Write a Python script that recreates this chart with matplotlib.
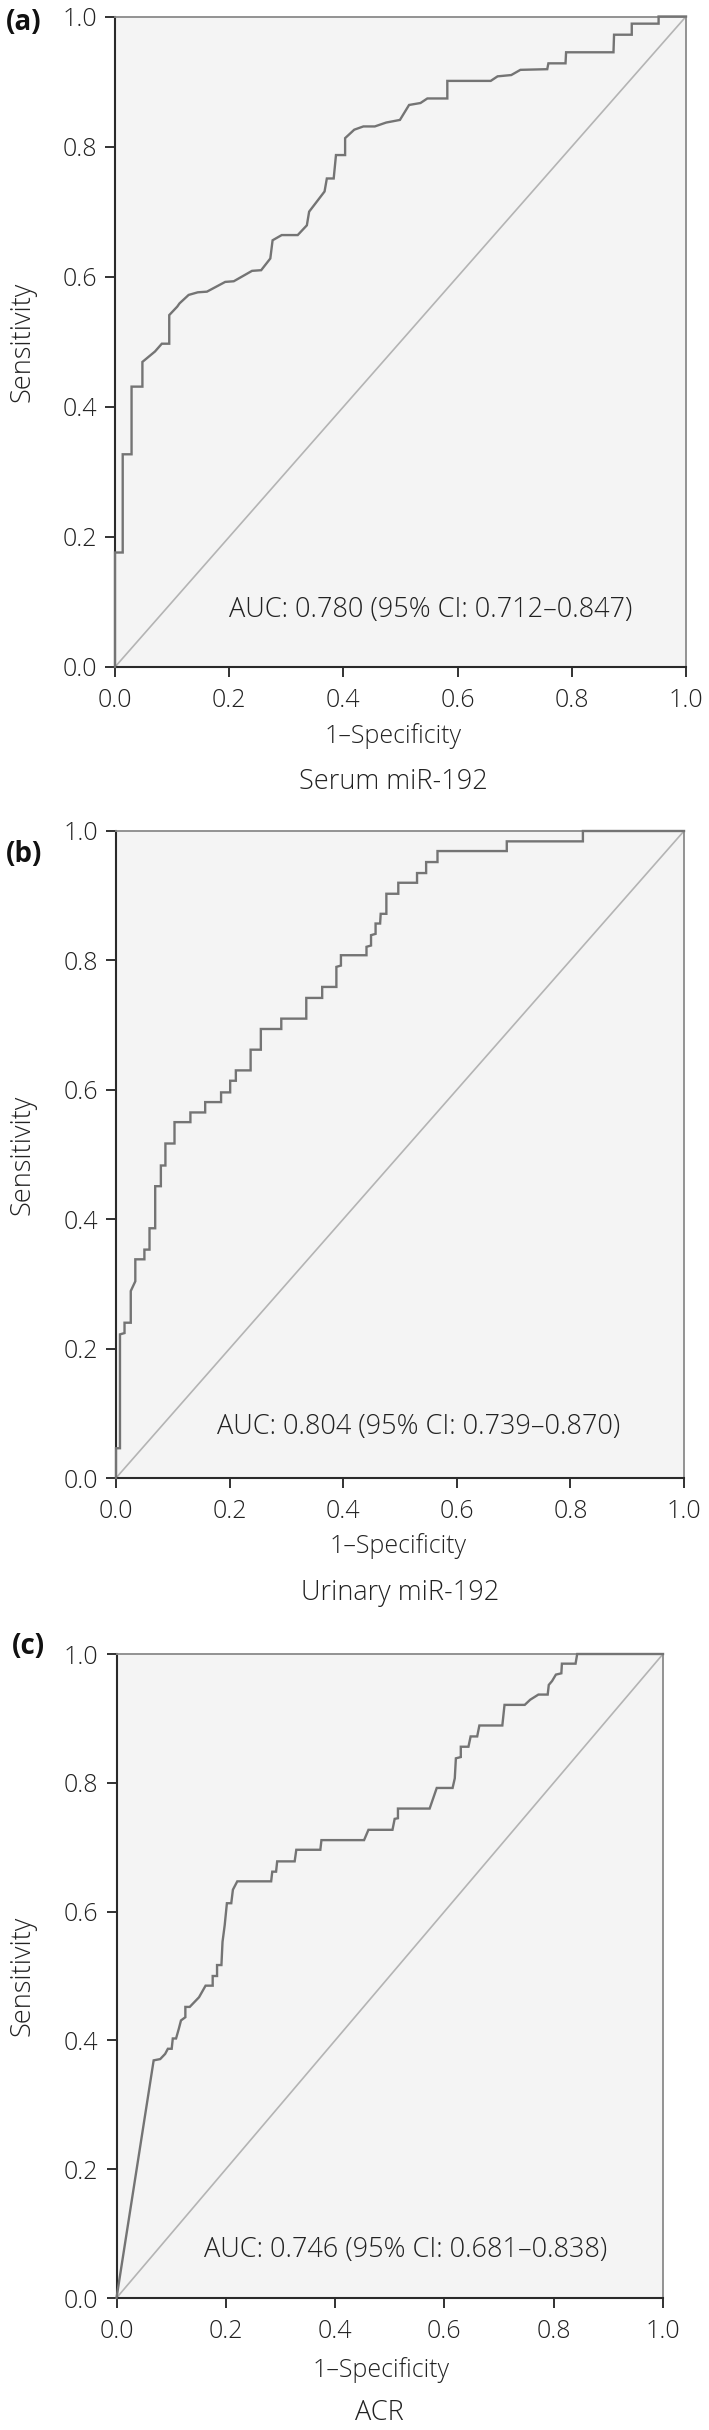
import matplotlib
matplotlib.use("Agg")
import matplotlib.pyplot as plt

# ---------------- data ----------------
panel_letters = ["(a)", "(b)", "(c)"]
panel_names = ["Serum miR-192", "Urinary miR-192", "ACR"]
auc_texts = ["AUC: 0.780 (95% CI: 0.712\u20130.847)",
             "AUC: 0.804 (95% CI: 0.739\u20130.870)",
             "AUC: 0.746 (95% CI: 0.681\u20130.838)"]
tick_vals = [0.0, 0.2, 0.4, 0.6, 0.8, 1.0]
tick_labels = ["0.0", "0.2", "0.4", "0.6", "0.8", "1.0"]

a_fpr = [0, 0, 0.0135, 0.0135, 0.029, 0.029, 0.048, 0.048, 0.07, 0.082,
         0.095, 0.095, 0.109, 0.113, 0.129, 0.145, 0.161, 0.193, 0.208, 0.240,
         0.256, 0.272, 0.276, 0.292, 0.320, 0.336, 0.340, 0.367, 0.371, 0.383,
         0.387, 0.403, 0.403, 0.419, 0.435, 0.455, 0.475, 0.499, 0.515, 0.535,
         0.547, 0.582, 0.582, 0.658, 0.670, 0.694, 0.710, 0.757, 0.759, 0.789,
         0.790, 0.873, 0.874, 0.905, 0.905, 0.952, 0.952, 1.0]
a_tpr = [0, 0.176, 0.176, 0.327, 0.327, 0.431, 0.431, 0.469, 0.485, 0.497,
         0.497, 0.541, 0.554, 0.559, 0.572, 0.576, 0.577, 0.592, 0.593, 0.609,
         0.610, 0.628, 0.656, 0.664, 0.664, 0.679, 0.700, 0.731, 0.751, 0.751,
         0.787, 0.787, 0.813, 0.826, 0.831, 0.831, 0.837, 0.841, 0.864, 0.867,
         0.874, 0.874, 0.901, 0.901, 0.908, 0.910, 0.918, 0.919, 0.928, 0.928,
         0.945, 0.945, 0.972, 0.972, 0.989, 0.989, 1.0, 1.0]

b_fpr = [0, 0, 0.007, 0.007, 0.015, 0.015, 0.026, 0.026, 0.034, 0.034,
         0.050, 0.050, 0.059, 0.059, 0.069, 0.069, 0.079, 0.079, 0.087, 0.087,
         0.103, 0.103, 0.131, 0.131, 0.157, 0.157, 0.185, 0.185, 0.201, 0.201,
         0.211, 0.211, 0.237, 0.237, 0.255, 0.255, 0.291, 0.291, 0.335, 0.335,
         0.363, 0.363, 0.388, 0.388, 0.396, 0.396, 0.441, 0.441, 0.449, 0.449,
         0.457, 0.457, 0.465, 0.466, 0.476, 0.476, 0.497, 0.497, 0.530, 0.530,
         0.546, 0.546, 0.566, 0.566, 0.688, 0.688, 0.822, 0.822, 1.0]
b_tpr = [0, 0.046, 0.046, 0.222, 0.224, 0.240, 0.240, 0.289, 0.304, 0.338,
         0.338, 0.353, 0.353, 0.386, 0.386, 0.451, 0.451, 0.483, 0.483, 0.517,
         0.517, 0.550, 0.550, 0.565, 0.565, 0.581, 0.581, 0.596, 0.596, 0.614,
         0.614, 0.630, 0.630, 0.662, 0.662, 0.694, 0.694, 0.710, 0.710, 0.742,
         0.742, 0.759, 0.759, 0.790, 0.792, 0.808, 0.808, 0.821, 0.823, 0.839,
         0.841, 0.857, 0.857, 0.872, 0.872, 0.903, 0.903, 0.920, 0.920, 0.935,
         0.935, 0.952, 0.952, 0.969, 0.969, 0.984, 0.984, 1.0, 1.0]

c_fpr = [0, 0.068, 0.080, 0.089, 0.094, 0.101, 0.103, 0.109, 0.114, 0.118,
         0.126, 0.126, 0.134, 0.151, 0.163, 0.176, 0.176, 0.184, 0.184, 0.192,
         0.194, 0.198, 0.202, 0.210, 0.213, 0.221, 0.283, 0.285, 0.292, 0.294,
         0.326, 0.329, 0.373, 0.375, 0.453, 0.461, 0.505, 0.509, 0.515, 0.515,
         0.573, 0.586, 0.615, 0.619, 0.621, 0.630, 0.630, 0.644, 0.648, 0.660,
         0.664, 0.706, 0.710, 0.747, 0.757, 0.772, 0.789, 0.791, 0.797, 0.804,
         0.814, 0.815, 0.840, 0.843, 1.0]
c_tpr = [0, 0.369, 0.371, 0.379, 0.387, 0.387, 0.403, 0.403, 0.418, 0.431,
         0.436, 0.452, 0.452, 0.467, 0.485, 0.485, 0.500, 0.500, 0.517, 0.517,
         0.553, 0.579, 0.613, 0.613, 0.634, 0.647, 0.647, 0.662, 0.662, 0.678,
         0.678, 0.696, 0.696, 0.711, 0.711, 0.727, 0.727, 0.744, 0.745, 0.760,
         0.760, 0.792, 0.792, 0.807, 0.838, 0.840, 0.856, 0.856, 0.872, 0.872,
         0.889, 0.889, 0.921, 0.921, 0.929, 0.937, 0.937, 0.952, 0.958, 0.968,
         0.970, 0.985, 0.985, 1.0, 1.0]

curves = [(a_fpr, a_tpr), (b_fpr, b_tpr), (c_fpr, c_tpr)]

# ---------------- layout (figure pixels, y from top) ----------------
W, H = 709, 2430
FONT = ["Open Sans", "DejaVu Sans"]
FS_TICK = 18
FS_TEXT = 19.5

axes_px = [  # left, right, top, bottom
    (115, 686, 16.5, 667),
    (116, 684, 831, 1478),
    (116.5, 663, 1654, 2298),
]
letter_pos = [(24, 22), (24, 854), (28, 1646)]
auc_pos = [(431, 610), (419, 1427), (406, 2250)]
xlabel_pos = [(393, 736), (398, 1546), (381, 2370)]
name_pos = [(393, 782), (400, 1593), (379, 2413)]
ylabel_x = 22

fig = plt.figure(figsize=(W / 100, H / 100), dpi=100)
fig.patch.set_facecolor("white")


def fx(x):
    return x / W


def fy(y):
    return 1 - y / H


for i in range(3):
    l, r, t, b = axes_px[i]
    ax = fig.add_axes([fx(l), fy(b), (r - l) / W, (b - t) / H])
    ax.set_facecolor("#f4f4f4")
    ax.plot([0, 1], [0, 1], color="#b4b4b4", lw=1.2, zorder=2)
    fpr, tpr = curves[i]
    ax.plot(fpr, tpr, color="#747474", lw=1.7, zorder=3, clip_on=False,
            solid_joinstyle="miter")
    ax.set_xlim(0, 1)
    ax.set_ylim(0, 1)
    ax.set_xticks(tick_vals)
    ax.set_yticks(tick_vals)
    ax.set_xticklabels(tick_labels, fontfamily=FONT, fontsize=FS_TICK,
                       fontweight="light", color="#222222")
    ax.set_yticklabels(tick_labels, fontfamily=FONT, fontsize=FS_TICK,
                       fontweight="light", color="#222222")
    ax.tick_params(axis="both", direction="out", length=7, width=1.3,
                   color="#222222")
    ax.tick_params(axis="x", pad=8)
    ax.tick_params(axis="y", pad=6)
    for s in ["left", "bottom"]:
        ax.spines[s].set_color("#2a2a2a")
        ax.spines[s].set_linewidth(1.5)
    for s in ["top", "right"]:
        ax.spines[s].set_color("#8a8a8a")
        ax.spines[s].set_linewidth(1.3)

    fig.text(fx(ylabel_x), fy((t + b) / 2), "Sensitivity", rotation=90,
             ha="center", va="center", fontfamily=FONT, fontsize=FS_TEXT,
             fontweight="light", color="#222222")
    fig.text(fx(letter_pos[i][0]), fy(letter_pos[i][1]), panel_letters[i],
             ha="center", va="center", fontfamily=FONT, fontsize=20,
             fontweight="bold", color="#111111")
    fig.text(fx(auc_pos[i][0]), fy(auc_pos[i][1]), auc_texts[i],
             ha="center", va="center", fontfamily=FONT, fontsize=FS_TEXT,
             fontweight="light", color="#222222")
    fig.text(fx(xlabel_pos[i][0]), fy(xlabel_pos[i][1]), "1\u2013Specificity",
             ha="center", va="center", fontfamily=FONT, fontsize=FS_TICK,
             fontweight="light", color="#222222")
    fig.text(fx(name_pos[i][0]), fy(name_pos[i][1]), panel_names[i],
             ha="center", va="center", fontfamily=FONT, fontsize=FS_TEXT,
             fontweight="light", color="#222222")

fig.savefig("out.png", dpi=100, facecolor="white")
